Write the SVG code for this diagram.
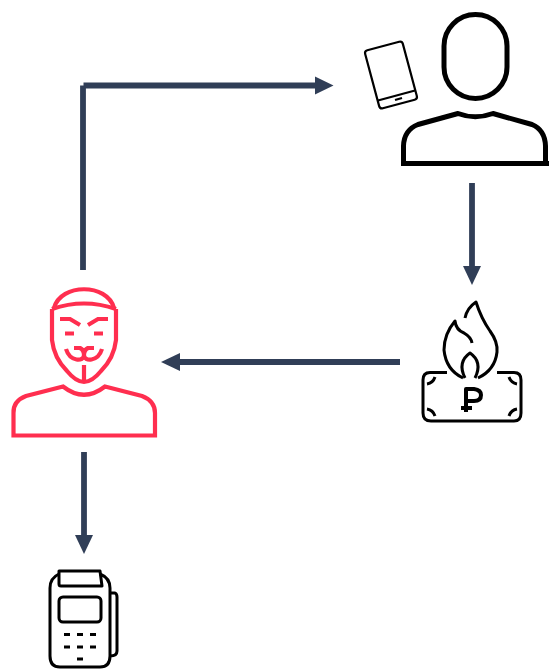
<svg xmlns="http://www.w3.org/2000/svg" width="549" height="669" viewBox="0 0 549 669">
<style>
.c{fill:none;stroke:#303e57;stroke-width:5.800}
.h{fill:#303e57;stroke:none}
.k{fill:none;stroke:#000;stroke-linecap:butt;stroke-linejoin:round}
.r{fill:none;stroke:#ff2e4f;stroke-width:4.200;stroke-linejoin:miter}
</style>
<rect width="549" height="669" fill="#fff"/>
<g id="connectors">
<path class="c" d="M83 270V85.500M83.500 85.500H318"/><polygon class="h" points="315,76.500 333.500,85.500 315,94.500"/>
<path class="c" d="M472 183V268"/><polygon class="h" points="463,266 472,285 481,266"/>
<path class="c" d="M400 362H178"/><polygon class="h" points="180,353 161,362 180,371"/>
<path class="c" d="M84 452V537"/><polygon class="h" points="75,535 84,554 93,535"/>
</g>
<g id="victim">
<rect class="k" x="444" y="14.500" width="63" height="84" rx="31.500" ry="31.500" stroke-width="5"/>
<path class="k" stroke-width="5" d="M403.500 163V146Q404 130 418 124.500L458 113.500Q475 120 493 113.500L532 124.500Q545 130 545.500 146V163"/>
<path d="M401 163.500H549" stroke="#000" stroke-width="5" fill="none"/>
</g>
<g id="phone">
<rect class="k" x="371.500" y="45" width="39" height="60" rx="3" transform="rotate(-15 391 75)" stroke-width="2.200"/>
<path class="k" stroke-width="2.200" d="M378 100.500L415 90.500"/>
<path class="k" stroke-width="2.200" d="M395 100L402 98"/>
</g>
<g id="attacker">
<path class="r" d="M54 308C61 283 107 283 114 308"/>
<path class="r" d="M52 309Q84 298 116 309"/>
<path class="r" d="M52 309V340Q54 358 67 371Q76 382 84 382Q92 382 101 371Q114 358 116 340V309"/>
<path class="r" d="M60 319H70L80 325M108 319H98L88 325"/>
<path class="r" d="M65 333.500H74M94 333.500H103"/>
<path class="r" d="M66 349C70 362 84 362 84 355C84 362 98 362 102 349"/>
<path class="r" d="M74 348H80Q84 350 84 355Q84 350 88 348H94"/>
<path class="r" d="M84 365V380"/>
<path class="r" d="M13.500 435.500V413Q13 401 26 396L63 386.500Q84 403 105 386.500L142 396Q155 401 155 413V435.500Z"/>
</g>
<g id="burning-money">
<path class="k" stroke-width="3" d="M447 372.500H430Q423 372.500 423 380V413Q423 421 431 421H514Q521 421 521 413V380Q521 372.500 514 372.500H497"/>
<path class="k" stroke-width="3" d="M427 384Q433 383 435 377M517 384Q511 383 509 377M427 409Q433 410 435 416M517 409Q511 410 509 416"/>
<path class="k" stroke-width="3" d="M465 318Q467 308 476 302Q481 318 490 331Q498 342 497 352Q495 370 478 378"/>
<path class="k" stroke-width="3" d="M463 378Q446 370 444 350Q444 334 455 321Q456 330 464 333Q471 337 472 343"/>
<path class="k" stroke-width="3" d="M465 378Q457 362 470 353Q483 362 475 378"/>
<path class="k" stroke-width="4" d="M466 412V389H474Q481 390 481 395Q481 401 474 401H466M461 408H472"/>
</g>
<g id="terminal">
<path class="k" stroke-width="3" d="M59 571H100L102 586H61Q59 586 59 584Z"/>
<path class="k" stroke-width="3" d="M59 574Q50 578 50 588V656Q50 667 60 667H100Q110 667 110 656V588Q110 578 100 574"/>
<path class="k" stroke-width="3" d="M110 593H115Q117 594 117 597V651Q117 656 110 656"/>
<rect class="k" x="59" y="597" width="42" height="25" rx="4" stroke-width="3"/>
<path d="M64 634.500H70M77 634.500H83M90 634.500H96M64 647H70M77 647H83M90 647H96M77 659H83" stroke="#000" stroke-width="3" fill="none"/>
</g>
</svg>
